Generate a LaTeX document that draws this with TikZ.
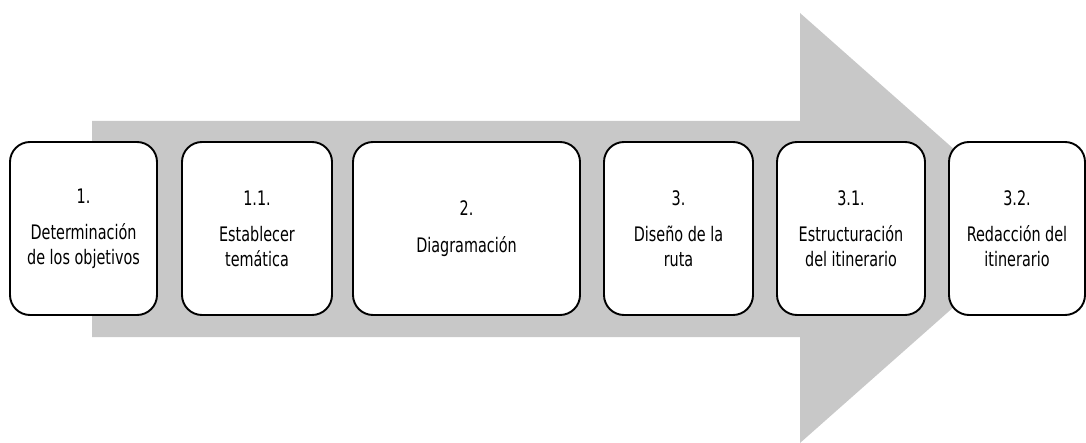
\documentclass[tikz,border=0pt]{standalone}
\usepackage{fontspec}
\setmainfont{DejaVu Sans Condensed}[FakeStretch=0.8]
\definecolor{arrowgray}{RGB}{200,200,200}
\begin{document}
\begin{tikzpicture}[x=1pt,y=-1pt,
  stepbox/.style={draw=black, line width=1.9pt, fill=white, rounded corners=20pt,
    align=center, inner sep=0pt, minimum height=173pt,
    font=\fontsize{20}{24.5}\selectfont},
]
\useasboundingbox (0,0) rectangle (1086,443);
\fill[arrowgray] (92,121) -- (800,121) -- (800,13) -- (1043,228) -- (800,443)
  -- (800,337) -- (92,337) -- cycle;
\node[stepbox, minimum width=147pt] (b1) at (83.5,228.5) {1.\\[12pt]Determinación\\de los objetivos};
\node[stepbox, minimum width=150pt] (b2) at (257,228.5) {1.1.\\[12pt]Establecer\\temática};
\node[stepbox, minimum width=227pt] (b3) at (466.5,228.5) {2.\\[12pt]Diagramación};
\node[stepbox, minimum width=149pt] (b4) at (678.5,228.5) {3.\\[12pt]Diseño de la\\ruta};
\node[stepbox, minimum width=148pt] (b5) at (851,228.5) {3.1.\\[12pt]Estructuración\\del itinerario};
\node[stepbox, minimum width=136pt] (b6) at (1017,228.5) {3.2.\\[12pt]Redacción del\\itinerario};
\end{tikzpicture}
\end{document}
